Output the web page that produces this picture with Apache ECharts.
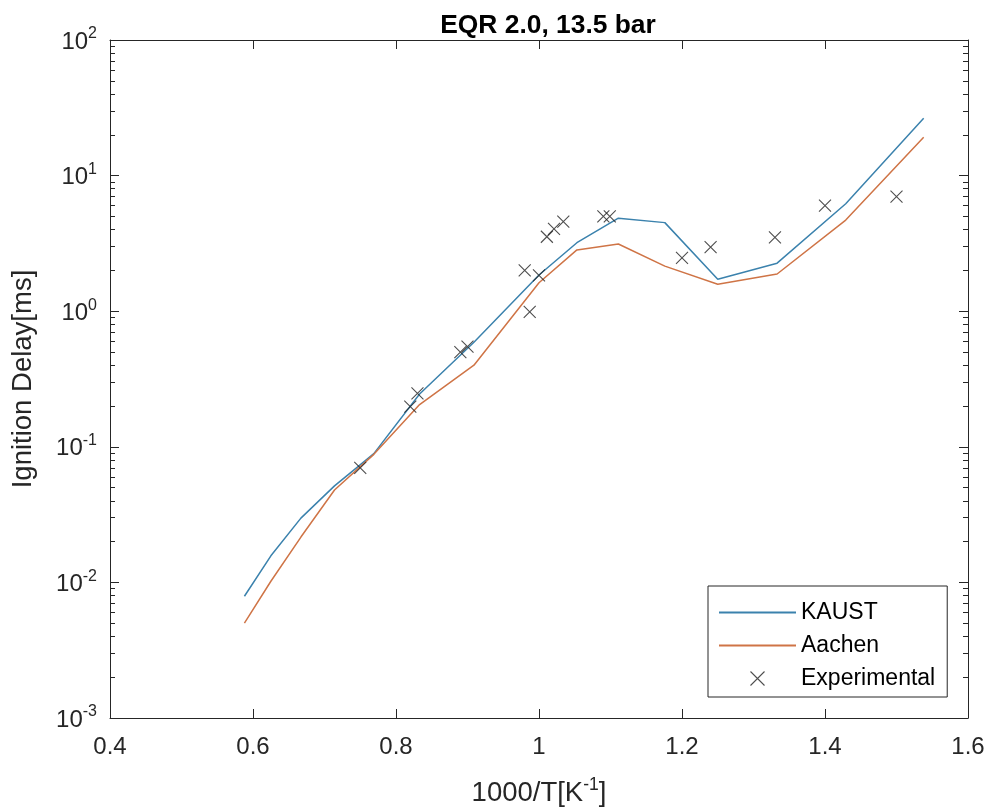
<!DOCTYPE html>
<html><head><meta charset="utf-8">
<script src="https://cdn.jsdelivr.net/npm/echarts@6/dist/echarts.min.js"></script>
<style>html,body{margin:0;padding:0;background:#fff}#c{width:991px;height:811px}</style>
</head><body><div id="c"></div>
<script>
// 1000/T grid of the simulations
const simX = [0.588, 0.625, 0.667, 0.714, 0.769, 0.833, 0.909, 1.0, 1.053, 1.111, 1.176, 1.25, 1.333, 1.429, 1.538];
const kaustY = [0.0079, 0.0157, 0.0298, 0.0515, 0.089, 0.245, 0.59, 1.85, 3.2, 4.85, 4.5, 1.72, 2.26, 6.2, 26.5];
const aachenY = [0.005, 0.0102, 0.0216, 0.0480, 0.088, 0.205, 0.40, 1.62, 2.83, 3.13, 2.15, 1.58, 1.88, 4.7, 19.2];
const expX = [0.75, 0.82, 0.83, 0.89, 0.90, 0.98, 0.987, 1.0, 1.011, 1.021, 1.034, 1.09, 1.099, 1.2, 1.24, 1.33, 1.4, 1.5];
const expY = [0.07, 0.198, 0.248, 0.50, 0.547, 2.0, 0.99, 1.84, 3.54, 4.04, 4.57, 5.0, 5.0, 2.47, 2.97, 3.5, 6.0, 7.0];
const xTickLabels = ['0.4', '0.6', '0.8', '1', '1.2', '1.4', '1.6'];
const yTickExps = ['-3', '-2', '-1', '0', '1', '2'];
const seriesNames = ['KAUST', 'Aachen', 'Experimental'];

const FONT = 'Liberation Sans, Arial, Helvetica, sans-serif';
const AX = '#262626';
const yMinor = [];
for (let e = -3; e < 2; e++) for (let m = 2; m <= 9; m++) yMinor.push(+(m * Math.pow(10, e)).toPrecision(3));

const zip = (a, b) => a.map((v, i) => [v, b[i]]);

const ylab = {
  formatter: v => {
    const e = Math.round(Math.log10(v));
    return '{b|10}{s|' + yTickExps[e + 3] + '}';
  },
  margin: 13,
  rich: {
    b: {fontSize: 24, fontFamily: FONT, color: AX, lineHeight: 28, verticalAlign: 'bottom'},
    s: {fontSize: 16, fontFamily: FONT, color: AX, lineHeight: 16, verticalAlign: 'top', padding: [0, 0, 12, 0]}
  }
};

function yAx(pos, major, labels) {
  return {
    type: 'log', logBase: 10, min: 0.001, max: 100, position: pos,
    axisLine: {show: major, lineStyle: {color: AX, width: 1}},
    axisTick: major ? {show: true, inside: true, length: 9, lineStyle: {color: AX, width: 1}}
                    : {show: true, inside: true, length: 5, customValues: yMinor, lineStyle: {color: AX, width: 1}},
    axisLabel: labels ? ylab : {show: false},
    splitLine: {show: false},
    minorTick: {show: false},
    name: labels ? 'Ignition Delay[ms]' : '',
    nameLocation: 'middle', nameGap: 73, nameMoveOverlap: false,
    nameTextStyle: {fontSize: 27.5, fontFamily: FONT, color: AX}
  };
}

const chart = echarts.init(document.getElementById('c'), null, {renderer: 'canvas'});
chart.setOption({
  animation: false,
  backgroundColor: '#fff',
  title: {
    text: 'EQR 2.0, 13.5 bar', left: 548, top: 13, textAlign: 'center', padding: 0,
    textStyle: {fontSize: 26.4, fontWeight: 'bold', fontFamily: FONT, color: '#000'}
  },
  grid: {left: 110, right: 23, top: 40, bottom: 93, containLabel: false, outerBoundsMode: 'none'},
  xAxis: [{
    type: 'value', min: 0.4, max: 1.6, interval: 0.2, position: 'bottom',
    axisLine: {show: true, onZero: false, lineStyle: {color: AX, width: 1}},
    axisTick: {show: true, inside: true, length: 9, lineStyle: {color: AX}},
    axisLabel: {
      formatter: v => xTickLabels[Math.round((v - 0.4) / 0.2)],
      fontSize: 24, fontFamily: FONT, color: AX, margin: 17
    },
    splitLine: {show: false},
    name: '{b|1000/T[K}{s|-1}{b|]}', nameLocation: 'middle', nameGap: 58, nameMoveOverlap: false,
    nameTextStyle: {
      rich: {
        b: {fontSize: 27.5, fontFamily: FONT, color: AX, lineHeight: 31, verticalAlign: 'bottom'},
        s: {fontSize: 17.5, fontFamily: FONT, color: AX, lineHeight: 17, verticalAlign: 'top', padding: [0, 0, 12, 0]}
      }
    }
  }, {
    type: 'value', min: 0.4, max: 1.6, interval: 0.2, position: 'top',
    axisLine: {show: true, onZero: false, lineStyle: {color: AX, width: 1}},
    axisTick: {show: true, inside: true, length: 9, lineStyle: {color: AX}},
    axisLabel: {show: false}, splitLine: {show: false}
  }],
  yAxis: [yAx('left', true, true), yAx('left', false, false), yAx('right', true, false), yAx('right', false, false)],
  legend: {
    orient: 'vertical', left: 708, top: 586, padding: [15, 12, 7, 10],
    itemGap: 10, itemWidth: 77, itemHeight: 14, symbolKeepAspect: true,
    borderColor: AX, borderWidth: 1, backgroundColor: '#fff',
    textStyle: {fontSize: 23, fontFamily: FONT, color: '#000'},
    data: [
      {name: seriesNames[0], itemStyle: {color: 'rgba(0,0,0,0)', borderWidth: 0}},
      {name: seriesNames[1], itemStyle: {color: 'rgba(0,0,0,0)', borderWidth: 0}},
      {name: seriesNames[2], itemStyle: {color: '#222', borderColor: '#222', borderWidth: 1.1}}]
  },
  series: [{
    name: seriesNames[0], type: 'line', data: zip(simX, kaustY), symbol: 'none',
    lineStyle: {color: '#3b82ad', width: 1.5}, itemStyle: {color: '#3b82ad'}, z: 2
  }, {
    name: seriesNames[1], type: 'line', data: zip(simX, aachenY), symbol: 'none',
    lineStyle: {color: '#cf7446', width: 1.5}, itemStyle: {color: '#cf7446'}, z: 2
  }, {
    name: seriesNames[2], type: 'scatter', data: zip(expX, expY),
    symbol: 'path://M0,0L10,10M0,10L10,0', symbolSize: 12, symbolKeepAspect: true,
    itemStyle: {color: '#222', borderColor: '#222', borderWidth: 1.1}, z: 3
  }]
});
</script>
</body></html>
